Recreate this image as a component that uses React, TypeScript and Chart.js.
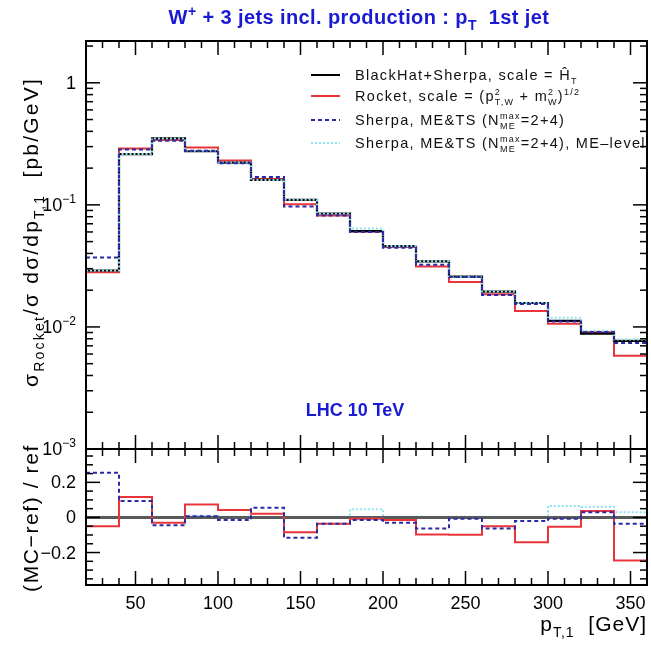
import React, { useEffect, useRef } from "react";
import { Chart, registerables } from "chart.js";

Chart.register(...registerables);

// ---------------- data ----------------
const binEdges = [20, 40, 60, 80, 100, 120, 140, 160, 180, 200, 220, 240, 260, 280, 300, 320, 340, 360];

// top panel: dsigma/dpT [pb/GeV]
const blackHatSherpa = [0.029, 0.26, 0.35, 0.275, 0.222, 0.16, 0.11, 0.085, 0.061, 0.046, 0.0345, 0.0258, 0.0195, 0.0157, 0.0112, 0.0088, 0.0077];
const rocket = [0.028, 0.29, 0.34, 0.295, 0.231, 0.163, 0.101, 0.082, 0.0606, 0.0453, 0.0312, 0.0233, 0.0185, 0.0135, 0.0106, 0.0091, 0.0058];
const sherpaMETS = [0.037, 0.284, 0.335, 0.277, 0.219, 0.169, 0.097, 0.082, 0.06, 0.0446, 0.0323, 0.0256, 0.0183, 0.0154, 0.0111, 0.0091, 0.0074];
const sherpaMELevel = [0.029, 0.261, 0.35, 0.278, 0.222, 0.16, 0.11, 0.085, 0.064, 0.046, 0.0345, 0.0258, 0.0195, 0.0157, 0.0119, 0.0093, 0.0079];

// bottom panel: (MC-ref)/ref
const ratioRef = [0, 0, 0, 0, 0, 0, 0, 0, 0, 0, 0, 0, 0, 0, 0, 0, 0];
const ratioRocket = [-0.05, 0.116, -0.03, 0.074, 0.042, 0.021, -0.084, -0.036, -0.007, -0.015, -0.097, -0.099, -0.05, -0.141, -0.053, 0.036, -0.246];
const ratioSherpa = [0.255, 0.093, -0.044, 0.007, -0.015, 0.055, -0.116, -0.036, -0.015, -0.03, -0.063, -0.007, -0.063, -0.021, -0.007, 0.03, -0.036];
const ratioMELevel = [0.004, 0.004, 0.003, 0.01, 0.004, 0.003, 0.004, 0.004, 0.046, 0.004, 0.004, 0.004, 0.004, 0.004, 0.065, 0.06, 0.03];

// axes
const xRange = [20, 360];
const xTickLabels = [50, 100, 150, 200, 250, 300, 350];
const logRange = [0.001, 2.2];
const logTickLabels = [
  { v: 1, base: "1", exp: "" },
  { v: 0.1, base: "10", exp: "−1" },
  { v: 0.01, base: "10", exp: "−2" },
  { v: 0.001, base: "10", exp: "−3" },
];
const ratioRange = [-0.385, 0.39];
const ratioTickLabels = [
  { v: 0.2, s: "0.2" },
  { v: 0, s: "0" },
  { v: -0.2, s: "−0.2" },
];

// ---------------- helpers ----------------
const FONT = '"Liberation Sans", Arial, Helvetica, sans-serif';
const BLUE = "#1a1ad2";

type Seg = { t?: string; sup?: string; sub?: string };
type RichOpt = { size: number; bold?: boolean; color: string; align: "left" | "center" | "right"; ls?: number; small?: number };

function drawRich(ctx: CanvasRenderingContext2D, segs: Seg[], x: number, y: number, o: RichOpt) {
  const big = `${o.bold ? "bold " : ""}${o.size}px ${FONT}`;
  const sm = `${o.bold ? "bold " : ""}${Math.round(o.size * (o.small || 0.68))}px ${FONT}`;
  ctx.save();
  (ctx as any).letterSpacing = `${o.ls || 0}px`;
  const ws = segs.map((s) => {
    if (s.t !== undefined) {
      ctx.font = big;
      return ctx.measureText(s.t).width;
    }
    ctx.font = sm;
    return Math.max(s.sup ? ctx.measureText(s.sup).width : 0, s.sub ? ctx.measureText(s.sub).width : 0);
  });
  const total = ws.reduce((a, b) => a + b, 0);
  let cx = o.align === "center" ? x - total / 2 : o.align === "right" ? x - total : x;
  ctx.fillStyle = o.color;
  ctx.textAlign = "left";
  ctx.textBaseline = "alphabetic";
  segs.forEach((s, i) => {
    if (s.t !== undefined) {
      ctx.font = big;
      ctx.fillText(s.t, cx, y);
    } else {
      ctx.font = sm;
      if (s.sup) ctx.fillText(s.sup, cx, y - o.size * 0.42);
      if (s.sub) ctx.fillText(s.sub, cx, y + o.size * 0.3);
    }
    cx += ws[i];
  });
  ctx.restore();
}

function seg(ctx: CanvasRenderingContext2D, x1: number, y1: number, x2: number, y2: number) {
  ctx.beginPath();
  ctx.moveTo(x1, y1);
  ctx.lineTo(x2, y2);
  ctx.stroke();
}

function steps(vals: number[]) {
  const pts = vals.map((v, i) => ({ x: binEdges[i], y: v }));
  pts.push({ x: binEdges[binEdges.length - 1], y: vals[vals.length - 1] });
  return pts;
}

function drawXTicks(ctx: CanvasRenderingContext2D, chart: any) {
  const a = chart.chartArea;
  const xs = chart.scales.x;
  for (let v = xRange[0]; v <= xRange[1]; v += 10) {
    const px = xs.getPixelForValue(v);
    const L = v % 50 === 0 ? 14 : 7;
    seg(ctx, px, a.bottom, px, a.bottom - L);
    seg(ctx, px, a.top, px, a.top + L);
  }
}

const legendItems: { color: string; dash: number[]; segs: Seg[] }[] = [
  { color: "#000000", dash: [], segs: [{ t: "BlackHat+Sherpa, scale = Ĥ" }, { sub: "T" }] },
  {
    color: "#e8343a",
    dash: [],
    segs: [{ t: "Rocket, scale = (p" }, { sup: "2", sub: "T,W" }, { t: " + m" }, { sup: "2", sub: "W" }, { t: ")" }, { sup: "1/2" }],
  },
  { color: "#2a2aa8", dash: [4, 3], segs: [{ t: "Sherpa, ME&TS (N" }, { sup: "max", sub: "ME" }, { t: "=2+4)" }] },
  { color: "#8fe3f2", dash: [2, 2], segs: [{ t: "Sherpa, ME&TS (N" }, { sup: "max", sub: "ME" }, { t: "=2+4), ME–level" }] },
];

const topDecor = {
  id: "topDecor",
  afterDatasetsDraw(chart: any) {
    const ctx: CanvasRenderingContext2D = chart.ctx;
    const a = chart.chartArea;
    const ys = chart.scales.y;
    ctx.save();
    ctx.strokeStyle = "#000";
    ctx.lineWidth = 1.5;
    drawXTicks(ctx, chart);
    for (let d = -3; d <= 0; d++) {
      for (let m = 1; m <= 9; m++) {
        const v = m * Math.pow(10, d);
        if (v > logRange[1]) break;
        const py = ys.getPixelForValue(v);
        const L = m === 1 ? 14 : 7;
        seg(ctx, a.left, py, a.left + L, py);
        seg(ctx, a.right, py, a.right - L, py);
      }
    }
    ctx.lineWidth = 2;
    ctx.strokeRect(a.left, a.top, a.right - a.left, a.bottom - a.top);

    // y tick labels
    logTickLabels.forEach((t) => {
      const py = ys.getPixelForValue(t.v);
      const segs: Seg[] = t.exp ? [{ t: t.base }, { sup: t.exp }] : [{ t: t.base }];
      drawRich(ctx, segs, a.left - 10, py + 6, { size: 18, color: "#000", align: "right" });
    });

    // title
    drawRich(ctx, [{ t: "W" }, { sup: "+" }, { t: " + 3 jets incl. production : p" }, { sub: "T" }, { t: "  1st jet" }], 359, 24, {
      size: 20,
      bold: true,
      color: BLUE,
      align: "center",
      ls: 0.4,
    });

    // y title
    ctx.save();
    ctx.translate(38, 232);
    ctx.rotate(-Math.PI / 2);
    drawRich(ctx, [{ t: "σ" }, { sub: "Rocket" }, { t: "/σ dσ/dp" }, { sub: "T,1" }, { t: "  [pb/GeV]" }], 0, 0, {
      size: 21,
      color: "#000",
      align: "center",
      ls: 2.2,
    });
    ctx.restore();

    // LHC label
    drawRich(ctx, [{ t: "LHC 10 TeV" }], 355, 416, { size: 18, bold: true, color: BLUE, align: "center" });

    // legend
    const ly = [75, 96, 120, 143];
    legendItems.forEach((it, i) => {
      ctx.save();
      ctx.strokeStyle = it.color;
      ctx.lineWidth = 2;
      ctx.setLineDash(it.dash);
      seg(ctx, 311, ly[i], 340, ly[i]);
      ctx.restore();
      drawRich(ctx, it.segs, 355, ly[i] + 5, { size: 14.5, color: "#111", align: "left", ls: 1.3, small: 0.62 });
    });
    ctx.restore();
  },
};

const botDecor = {
  id: "botDecor",
  afterDatasetsDraw(chart: any) {
    const ctx: CanvasRenderingContext2D = chart.ctx;
    const a = chart.chartArea;
    const xs = chart.scales.x;
    const ys = chart.scales.y;
    ctx.save();
    ctx.strokeStyle = "#000";
    ctx.lineWidth = 1.5;
    drawXTicks(ctx, chart);
    for (let k = -7; k <= 7; k++) {
      const v = k * 0.05;
      const py = ys.getPixelForValue(v);
      const L = k % 4 === 0 ? 14 : 7;
      seg(ctx, a.left, py, a.left + L, py);
      seg(ctx, a.right, py, a.right - L, py);
    }
    ctx.lineWidth = 2;
    ctx.strokeRect(a.left, a.top, a.right - a.left, a.bottom - a.top);

    ratioTickLabels.forEach((t) => {
      const py = ys.getPixelForValue(t.v);
      drawRich(ctx, [{ t: t.s }], a.left - 10, py + 6, { size: 18, color: "#000", align: "right" });
    });
    xTickLabels.forEach((v) => {
      const px = xs.getPixelForValue(v);
      drawRich(ctx, [{ t: String(v) }], px, a.bottom + 24, { size: 18, color: "#000", align: "center" });
    });

    drawRich(ctx, [{ t: "p" }, { sub: "T,1" }, { t: "  [GeV]" }], a.right, 631, { size: 21, color: "#000", align: "right", ls: 1 });

    ctx.save();
    ctx.translate(38, 518);
    ctx.rotate(-Math.PI / 2);
    drawRich(ctx, [{ t: "(MC−ref) / ref" }], 0, 0, { size: 21, color: "#000", align: "center", ls: 1.6 });
    ctx.restore();
    ctx.restore();
  },
};

function line(label: string, vals: number[], color: string, width: number, dash: number[], order: number) {
  return {
    label,
    data: steps(vals),
    borderColor: color,
    backgroundColor: color,
    borderWidth: width,
    borderDash: dash,
    stepped: true as const,
    pointRadius: 0,
    fill: false,
    order,
  };
}

export default function App() {
  const topRef = useRef<HTMLCanvasElement>(null);
  const botRef = useRef<HTMLCanvasElement>(null);

  useEffect(() => {
    const common = {
      animation: false as const,
      responsive: false,
      maintainAspectRatio: false,
      events: [] as any[],
      plugins: { legend: { display: false }, tooltip: { enabled: false }, title: { display: false } },
    };
    const top = new Chart(topRef.current as HTMLCanvasElement, {
      type: "line",
      data: {
        datasets: [
          line("Rocket", rocket, "#e8343a", 2, [], 4),
          line("BlackHat+Sherpa", blackHatSherpa, "#000000", 2.2, [], 3),
          line("Sherpa ME&TS ME-level", sherpaMELevel, "#8fe3f2", 2, [2, 2], 2),
          line("Sherpa ME&TS", sherpaMETS, "#2a2aa8", 2, [4, 3], 1),
        ],
      },
      options: {
        ...common,
        layout: { padding: { left: 86, right: 4, top: 41, bottom: 198 } },
        scales: {
          x: { type: "linear", min: xRange[0], max: xRange[1], display: false },
          y: { type: "logarithmic", min: logRange[0], max: logRange[1], display: false },
        },
      } as any,
      plugins: [topDecor],
    });
    const bot = new Chart(botRef.current as HTMLCanvasElement, {
      type: "line",
      data: {
        datasets: [
          line("Sherpa ME&TS ME-level", ratioMELevel, "#8fe3f2", 2, [2, 2], 5),
          line("BlackHat+Sherpa (ref)", ratioRef, "#5a5a5a", 3, [], 4),
          line("Rocket", ratioRocket, "#e8343a", 2, [], 3),
          line("Sherpa ME&TS", ratioSherpa, "#2a2aa8", 2, [4, 3], 2),
        ],
      },
      options: {
        ...common,
        layout: { padding: { left: 86, right: 4, top: 449, bottom: 62 } },
        scales: {
          x: { type: "linear", min: xRange[0], max: xRange[1], display: false },
          y: { type: "linear", min: ratioRange[0], max: ratioRange[1], display: false },
        },
      } as any,
      plugins: [botDecor],
    });
    return () => {
      top.destroy();
      bot.destroy();
    };
  }, []);

  return (
    <div style={{ position: "fixed", left: 0, top: 0, width: 651, height: 647, background: "#fff" }}>
      <canvas ref={botRef} width={651} height={647} style={{ position: "absolute", left: 0, top: 0 }} />
      <canvas ref={topRef} width={651} height={647} style={{ position: "absolute", left: 0, top: 0 }} />
    </div>
  );
}
